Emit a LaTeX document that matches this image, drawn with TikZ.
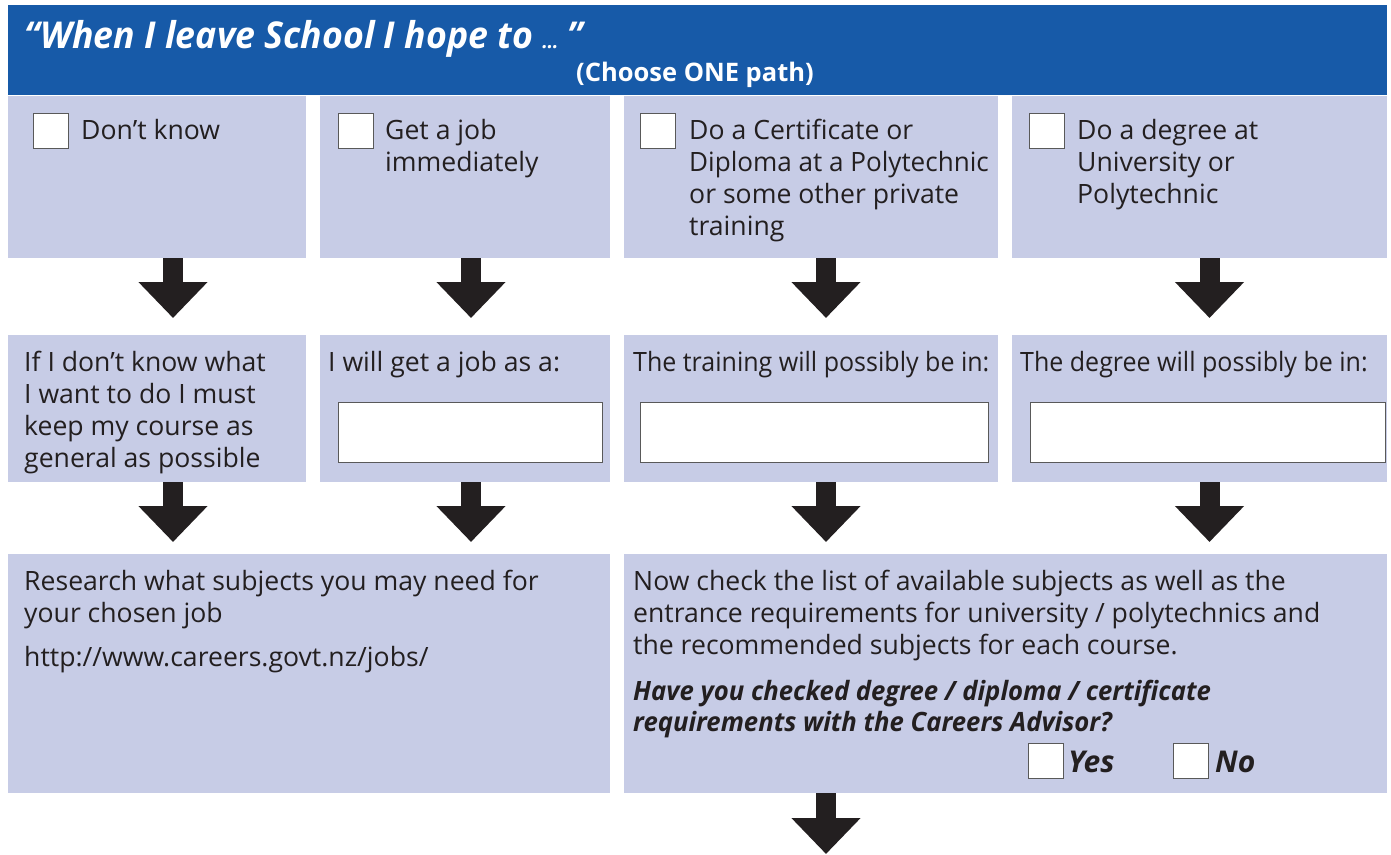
\documentclass[tikz,border=0pt]{standalone}
\usepackage{fontspec}
\usepackage{graphicx}
\setmainfont{Open Sans}
\usetikzlibrary{arrows.meta,positioning}
\definecolor{bandblue}{HTML}{175AA8}
\definecolor{panelbg}{HTML}{C7CCE6}
\definecolor{inkgrey}{HTML}{231F20}
\tikzset{
  panel/.style={fill=panelbg,anchor=north west,inner sep=0pt,outer sep=0pt},
  tickbox/.style={draw=black!65,fill=white,line width=0.9pt,minimum size=35pt,inner sep=0pt,anchor=north west},
  writebox/.style={draw=black!65,fill=white,line width=0.9pt,minimum height=60pt,inner sep=0pt,anchor=north west},
  paneltext/.style={text=inkgrey,font=\fontsize{26.6}{32}\selectfont,align=left,inner sep=0pt,anchor=base west},
  answer/.style={paneltext,font=\fontsize{30}{34}\selectfont\bfseries\itshape},
  downarrow/.style={draw=inkgrey,line width=20pt,line cap=butt,-{Triangle[width=67pt,length=36pt]}}
}
% squeeze a line a little sideways
\newcommand{\narrow}[2][0.94]{\scalebox{#1}[1]{#2}}

\begin{document}
\begin{tikzpicture}[x=1pt,y=-1pt]
  \useasboundingbox (0,0) rectangle (1391,854);
  % title band
  \node[fill=bandblue,anchor=north west,inner sep=0pt,minimum width=1379pt,minimum height=90pt] (band) at (8,5) {};
  \node[text=white,font=\fontsize{37}{40}\selectfont\bfseries\itshape,anchor=base west,inner sep=0pt] (title) at (24,48)
    {\narrow[0.965]{“When I leave School I hope to {\fontsize{20}{20}\selectfont…} ”}};
  \node[text=white,font=\fontsize{25.5}{28}\selectfont\bfseries,anchor=base west,inner sep=0pt] (pick) at (576,81) {(Choose ONE path)};

  % first row: the four choices (base = last line)
  \node[panel,minimum width=298pt,minimum height=162pt] (dk) at (8,96) {};
  \node[panel,minimum width=290pt,minimum height=162pt] (job) at (320,96) {};
  \node[panel,minimum width=374pt,minimum height=162pt] (cert) at (624,96) {};
  \node[panel,minimum width=375pt,minimum height=162pt] (deg) at (1012,96) {};
  \node[tickbox] (dkbox) at (33,113) {};
  \node[tickbox] (jobbox) at (338,113) {};
  \node[tickbox] (certbox) at (640,113) {};
  \node[tickbox] (degbox) at (1029,113) {};
  \node[paneltext] (dktext) at (81,139) {Don’t know};
  \node[paneltext] (jobtext) at (385,171) {Get a job\\immediately};
  \node[paneltext] (certtext) at (689,235) {Do a Certificate or\\\narrow[0.98]{Diploma at a Polytechnic}\\or some other private\\training};
  \node[paneltext] (degtext) at (1077,203) {Do a degree at\\University or\\Polytechnic};

  % second row
  \node[panel,minimum width=298pt,minimum height=147pt] (dk2) at (8,335) {};
  \node[panel,minimum width=290pt,minimum height=147pt] (job2) at (320,335) {};
  \node[panel,minimum width=374pt,minimum height=147pt] (cert2) at (624,335) {};
  \node[panel,minimum width=375pt,minimum height=147pt] (deg2) at (1012,335) {};
  \node[paneltext] (dk2text) at (24,467) {If I don’t know what\\I want to do I must\\keep my course as\\general as possible};
  \node[paneltext] (job2text) at (328,371) {I will get a job as a:};
  \node[paneltext] (cert2text) at (633,371) {\narrow{The training will possibly be in:}};
  \node[paneltext] (deg2text) at (1020,371) {\narrow{The degree will possibly be in:}};
  \node[writebox,minimum width=264pt] (jobfill) at (338,402) {};
  \node[writebox,minimum width=348pt] (certfill) at (640,402) {};
  \node[writebox,minimum width=355pt] (degfill) at (1030,402) {};

  % third row
  \node[panel,minimum width=602pt,minimum height=239pt] (research) at (8,554) {};
  \node[panel,minimum width=763pt,minimum height=239pt] (check) at (624,554) {};
  \node[paneltext] (researchtext) at (24,622) {Research what subjects you may need for\\your chosen job};
  \node[paneltext] (link) at (24,666) {http://www.careers.govt.nz/jobs/};
  \node[paneltext] (checktext) at (633,654) {Now check the list of available subjects as well as the\\entrance requirements for university / polytechnics and\\the recommended subjects for each course.};
  \node[paneltext,font=\fontsize{26.6}{31}\selectfont\bfseries\itshape] (ask) at (633,731)
    {\narrow[0.965]{Have you checked degree / diploma / certificate}\\\narrow[0.965]{requirements with the Careers Advisor?}};
  \node[tickbox] (yesbox) at (1028,743) {};
  \node[tickbox] (nobox) at (1173,743) {};
  \node[answer,right=4pt of yesbox.south east,anchor=base west,yshift=6pt] (yes) {Yes};
  \node[answer,right=6pt of nobox.south east,anchor=base west,yshift=6pt] (no) {No};
  \coordinate (next) at (826,854);

  % block arrows between the rows
  \draw[downarrow,shorten >=17pt] ([xshift=16pt]dk.south) -- ([xshift=16pt]dk2.north);
  \draw[downarrow,shorten >=17pt] ([xshift=6pt]job.south) -- ([xshift=6pt]job2.north);
  \draw[downarrow,shorten >=17pt] ([xshift=15pt]cert.south) -- ([xshift=15pt]cert2.north);
  \draw[downarrow,shorten >=17pt] ([xshift=10pt]deg.south) -- ([xshift=10pt]deg2.north);
  \draw[downarrow,shorten >=12pt] ([xshift=16pt]dk2.south) -- ([xshift=16pt]dk2.south |- research.north);
  \draw[downarrow,shorten >=12pt] ([xshift=6pt]job2.south) -- ([xshift=6pt]job2.south |- research.north);
  \draw[downarrow,shorten >=12pt] ([xshift=15pt]cert2.south) -- ([xshift=15pt]cert2.south |- check.north);
  \draw[downarrow,shorten >=12pt] ([xshift=10pt]deg2.south) -- ([xshift=10pt]deg2.south |- check.north);
  \draw[downarrow] ([xshift=15pt]cert2.south |- check.south) -- (next);
\end{tikzpicture}
\end{document}
